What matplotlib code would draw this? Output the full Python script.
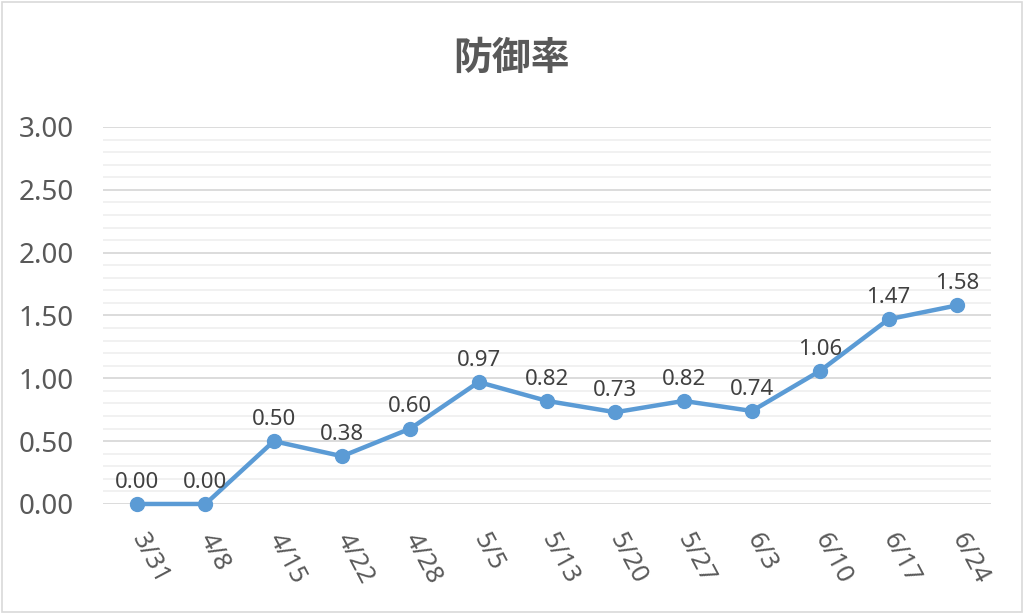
import matplotlib
matplotlib.use("Agg")
import matplotlib.pyplot as plt
from matplotlib.ticker import MultipleLocator
from matplotlib.patches import Rectangle

plt.rcParams['font.family'] = ['Noto Sans', 'Noto Sans CJK JP', 'DejaVu Sans']

title = "防御率"
dates = ["3/31", "4/8", "4/15", "4/22", "4/28", "5/5", "5/13", "5/20", "5/27", "6/3", "6/10", "6/17", "6/24"]
era = [0.00, 0.00, 0.50, 0.38, 0.60, 0.97, 0.82, 0.73, 0.82, 0.74, 1.06, 1.47, 1.58]

text_color = "#595959"
line_color = "#5B9BD5"

fig = plt.figure(figsize=(10.24, 6.14), dpi=100)
fig.patches.append(Rectangle((0.002, 0.003), 0.996, 0.994, transform=fig.transFigure,
                             fill=False, edgecolor="#D9D9D9", linewidth=1.2))
ax = fig.add_axes([0.1006, 0.1792, 0.8672, 0.614])

x = list(range(len(dates)))
ax.plot(x, era, color=line_color, linewidth=3.2, marker='o', markersize=10, zorder=3, clip_on=False)
for xi, v in zip(x, era):
    ax.annotate(f"{v:.2f}", (xi, v), xytext=(0, 8), textcoords='offset points',
                ha='center', va='bottom', fontsize=16, color="#404040")

ax.set_xlim(-0.5, len(dates) - 0.5)
ax.set_ylim(0, 3)
ax.yaxis.set_major_locator(MultipleLocator(0.5))
ax.yaxis.set_minor_locator(MultipleLocator(0.1))
ax.yaxis.set_major_formatter(matplotlib.ticker.FormatStrFormatter('%.2f'))
ax.grid(which='major', axis='y', color="#D9D9D9", linewidth=1.3, zorder=0)
ax.grid(which='minor', axis='y', color="#F0F0F0", linewidth=1.3, zorder=0)
ax.set_axisbelow(True)
for s in ax.spines.values():
    s.set_visible(False)
ax.tick_params(axis='both', which='both', length=0)
ax.tick_params(axis='y', labelsize=20, labelcolor=text_color, pad=21)
ax.set_xticks(x)
ax.set_xticklabels(dates, fontsize=18.5, color=text_color, rotation=-62,
                   ha='left', va='center', rotation_mode='anchor')
ax.tick_params(axis='x', pad=22)

fig.text(0.5, 0.905, title, ha='center', va='center', fontsize=28, fontweight='bold',
         color=text_color, family=['Noto Sans CJK JP', 'DejaVu Sans'])

fig.savefig("out.png", dpi=100)
